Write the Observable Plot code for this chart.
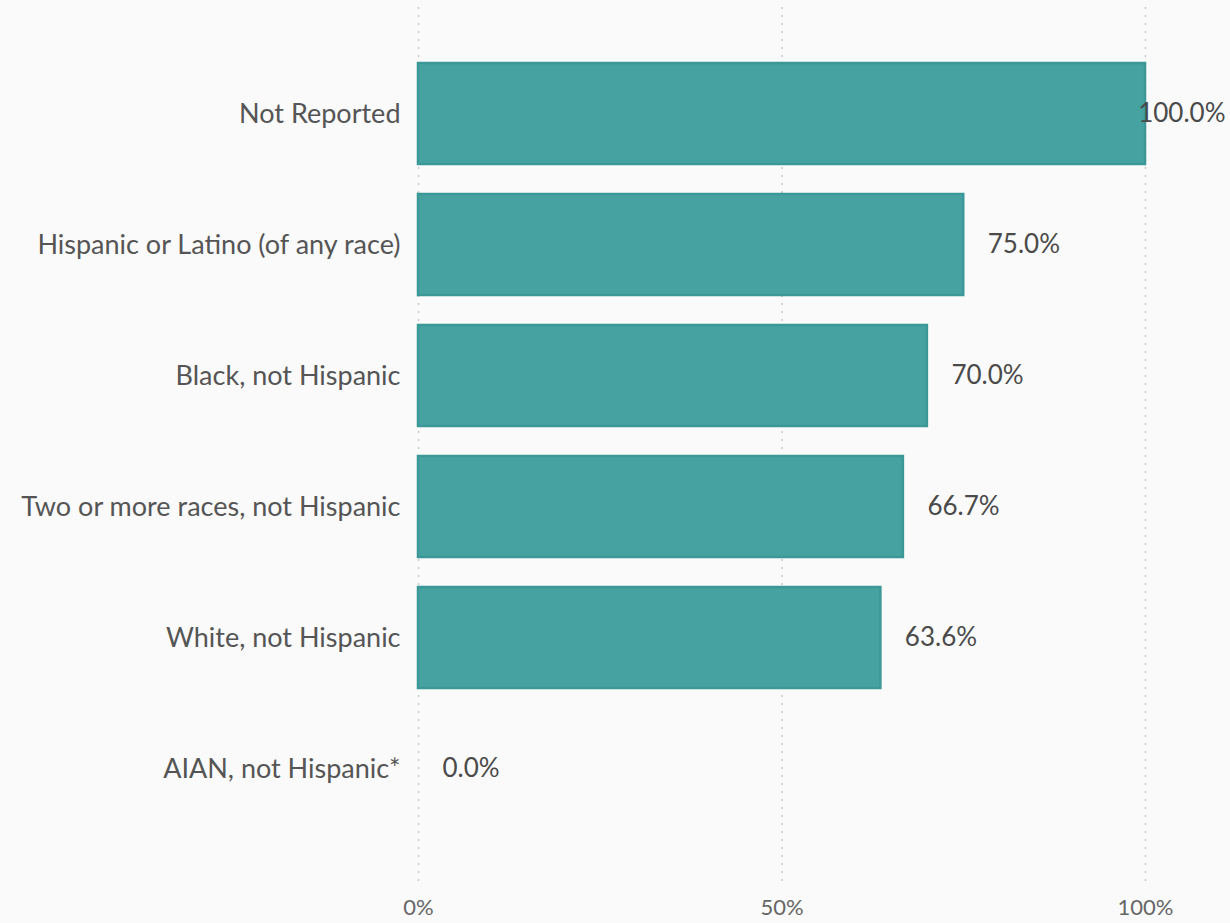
<!DOCTYPE html>
<html>
<head>
<meta charset="utf-8">
<script src="https://cdn.jsdelivr.net/npm/d3@7"></script>
<script src="https://cdn.jsdelivr.net/npm/@observablehq/plot@0.6"></script>
<style>
  html, body { margin: 0; padding: 0; background: #fafafa; }
  #chart svg { display: block; }
</style>
</head>
<body>
<div id="chart"></div>
<script>
const categories = [
  "Not Reported",
  "Hispanic or Latino (of any race)",
  "Black, not Hispanic",
  "Two or more races, not Hispanic",
  "White, not Hispanic",
  "AIAN, not Hispanic*"
];
const values = [100.0, 75.0, 70.0, 66.7, 63.6, 0.0];
const xTicks = [0, 50, 100];

const data = categories.map((c, i) => ({ category: c, value: values[i] }));
const fmt = v => v.toFixed(1) + "%";
const maxVal = d3.max(values);

const chart = Plot.plot({
  width: 1230,
  height: 923,
  marginLeft: 418,
  marginRight: 85,
  marginTop: 7,
  marginBottom: 38,
  style: { background: "#fafafa", fontFamily: "Lato, 'Open Sans', sans-serif" },
  x: { domain: [0, 100], ticks: xTicks, tickFormat: d => d + "%", label: null },
  y: { domain: categories, label: null, paddingInner: 0.227, paddingOuter: 0.44, align: 0.46 },
  marks: [
    Plot.gridX(xTicks, { stroke: "#c8c8c8", strokeOpacity: 1, strokeDasharray: "2,6", strokeWidth: 1.5 }),
    Plot.barX(data, { x: "value", y: "category", fill: "#46a2a1", stroke: "#3a9997", strokeWidth: 2.5 }),
    Plot.text(data.filter(d => d.value < maxVal), {
      x: "value", y: "category", text: d => fmt(d.value),
      textAnchor: "start", dx: 24, fontSize: 26, fill: "#4a4a4a"
    }),
    Plot.text(data.filter(d => d.value === maxVal), {
      x: "value", y: "category", text: d => fmt(d.value),
      textAnchor: "end", dx: 80, fontSize: 26, fill: "#4a4a4a"
    }),
    Plot.axisY({ tickSize: 0, tickPadding: 18, fontSize: 27, fill: "#555", label: null }),
    Plot.axisX(xTicks, { tickSize: 0, tickPadding: 14, fontSize: 22, fill: "#666", label: null, tickFormat: d => d + "%" })
  ]
});
document.getElementById("chart").appendChild(chart);
</script>
</body>
</html>
